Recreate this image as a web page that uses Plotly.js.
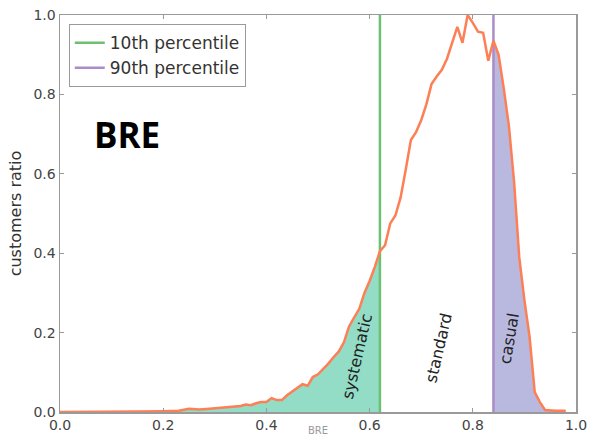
<!DOCTYPE html>
<html>
<head>
<meta charset="utf-8">
<script src="https://cdn.plot.ly/plotly-3.0.1.min.js"></script>
<style>html,body{margin:0;padding:0;background:#fff;}#chart{width:593px;height:437px;}</style>
</head>
<body>
<div id="chart"></div>
<script>
const bre = [0.00,0.05,0.10,0.15,0.20,0.23,0.25,0.27,0.29,0.31,0.33,0.35,0.36,0.37,0.38,0.39,0.40,0.41,0.42,0.43,0.44,0.45,0.46,0.47,0.48,0.49,0.50,0.51,0.52,0.53,0.54,0.55,0.56,0.57,0.58,0.59,0.60,0.61,0.62,0.63,0.64,0.65,0.66,0.67,0.68,0.69,0.70,0.71,0.72,0.73,0.74,0.75,0.76,0.77,0.78,0.79,0.80,0.81,0.82,0.83,0.84,0.85,0.86,0.87,0.88,0.89,0.90,0.91,0.92,0.93,0.94,0.96,0.98];
const ratio = [0.000,0.000,0.000,0.001,0.002,0.003,0.008,0.006,0.008,0.010,0.013,0.015,0.019,0.017,0.022,0.025,0.025,0.035,0.030,0.030,0.042,0.052,0.062,0.070,0.066,0.088,0.095,0.108,0.122,0.138,0.152,0.175,0.215,0.238,0.260,0.300,0.330,0.365,0.405,0.420,0.475,0.495,0.540,0.610,0.685,0.705,0.735,0.775,0.826,0.845,0.862,0.890,0.930,0.970,0.930,1.000,0.980,0.958,0.955,0.885,0.935,0.900,0.815,0.720,0.580,0.390,0.282,0.190,0.050,0.025,0.005,0.003,0.003];
const p10 = 0.62;
const p90 = 0.84;
const legendNames = ["10th percentile", "90th percentile"];
const zoneLabels = ["systematic", "standard", "casual"];
const zoneX = [0.576, 0.733, 0.870];
const zoneY = [0.139, 0.161, 0.186];
const zoneAngle = [-77, -77, -80];
const tickVals = [0, 0.2, 0.4, 0.6, 0.8, 1.0];
const tickText = ["0.0", "0.2", "0.4", "0.6", "0.8", "1.0"];
const xTitle = "BRE";

const lowX = [], lowY = [], highX = [], highY = [];
bre.forEach((x, i) => {
  if (x <= p10) { lowX.push(x); lowY.push(ratio[i]); }
  if (x >= p90) { highX.push(x); highY.push(ratio[i]); }
});

const traces = [
  {x: lowX, y: lowY, type: 'scatter', mode: 'none', fill: 'tozeroy', fillcolor: '#93dcc6', showlegend: false, hoverinfo: 'skip'},
  {x: highX, y: highY, type: 'scatter', mode: 'none', fill: 'tozeroy', fillcolor: '#b9b9df', showlegend: false, hoverinfo: 'skip'},
  {x: [p10, p10], y: [0, 1], type: 'scatter', mode: 'lines', line: {color: '#6cc070', width: 2.5}, name: legendNames[0]},
  {x: [p90, p90], y: [0, 1], type: 'scatter', mode: 'lines', line: {color: '#a98cc8', width: 2.5}, name: legendNames[1]},
  {x: bre, y: ratio, type: 'scatter', mode: 'lines', line: {color: '#fc7f55', width: 2.5}, showlegend: false}
];

const annotations = zoneLabels.map((t, i) => ({
  x: zoneX[i], y: zoneY[i], xref: 'x', yref: 'y', text: t, showarrow: false,
  textangle: zoneAngle[i], font: {family: 'DejaVu Sans', size: 16, color: '#222'}
}));
annotations.push({
  x: 0.062, y: 0.70, xref: 'x', yref: 'y', xanchor: 'left', yanchor: 'middle',
  text: '<b>BRE</b>', showarrow: false, font: {family: 'Open Sans', size: 35, color: '#000'}
});
annotations.push({
  x: 0.5, y: -0.063, xref: 'paper', yref: 'paper', xanchor: 'center', yanchor: 'bottom',
  text: xTitle, showarrow: false, font: {family: 'DejaVu Sans', size: 10, color: '#999'},
  borderpad: 0
});

const axisCommon = {
  showgrid: false, zeroline: false, showline: true, linecolor: '#9a9a9a', linewidth: 1.5,
  mirror: 'ticks', ticks: 'inside', ticklen: 4, tickcolor: '#9a9a9a',
  tickfont: {family: 'DejaVu Sans', size: 14, color: '#444'},
  tickvals: tickVals, ticktext: tickText
};

const layout = {
  width: 593, height: 437,
  margin: {l: 60, r: 17, t: 15, b: 25},
  paper_bgcolor: '#fff', plot_bgcolor: '#fff',
  xaxis: Object.assign({}, axisCommon, {range: [0, 1]}),
  yaxis: Object.assign({}, axisCommon, {range: [0, 1], title: {text: 'customers ratio', font: {family: 'DejaVu Sans', size: 16, color: '#333'}, standoff: 8}}),
  legend: {x: 0.017, y: 0.977, xanchor: 'left', yanchor: 'top', bordercolor: '#9a9a9a', borderwidth: 1, bgcolor: '#fff',
    font: {family: 'DejaVu Sans', size: 17, color: '#333'}},
  annotations: annotations,
  showlegend: true
};

Plotly.newPlot('chart', traces, layout, {displayModeBar: false, staticPlot: true});
</script>
</body>
</html>
